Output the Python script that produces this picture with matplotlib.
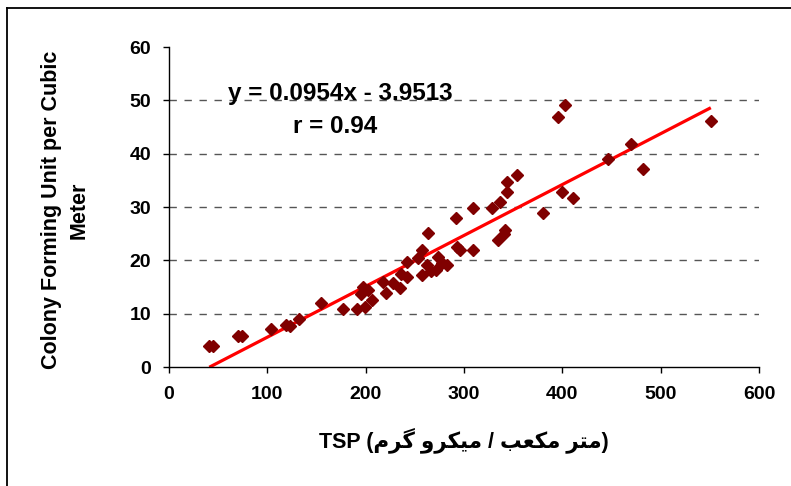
import matplotlib
matplotlib.use("Agg")
import matplotlib.pyplot as plt
from matplotlib.lines import Line2D
import numpy as np

# ---- data ----
tsp = [41, 45, 70, 74, 104, 119, 123, 132, 155, 177, 191, 195, 197, 199, 202, 206,
       218, 221, 228, 235, 236, 242, 242, 253, 257, 257, 263, 262, 266, 272, 274, 278,
       283, 292, 293, 296, 309, 309, 328, 335, 337, 341, 342, 344, 344, 354, 380, 396,
       403, 400, 411, 446, 470, 482, 551]
cfu = [4.0, 4.0, 5.9, 5.9, 7.2, 7.9, 7.7, 9.0, 12.0, 10.8, 10.8, 13.6, 15.0, 11.3, 14.5, 12.6,
       16.0, 13.9, 15.8, 14.8, 17.5, 16.9, 19.7, 20.4, 22.0, 17.3, 25.1, 19.1, 18.0, 18.2, 20.6, 19.5,
       19.1, 28.0, 22.5, 22.0, 29.8, 22.0, 29.8, 23.8, 31.0, 25.0, 25.7, 32.8, 34.7, 36.0, 28.9, 46.8,
       49.2, 32.8, 31.7, 39.0, 41.9, 37.1, 46.1]
slope = 0.0954
intercept = -3.9513
r_value = 0.94
x_ticks = [0, 100, 200, 300, 400, 500, 600]
y_ticks = [0, 10, 20, 30, 40, 50, 60]
ylabel_text = "Colony Forming Unit per Cubic\nMeter"
persian_unit = "متر مکعب / میکرو گرم"

# ---- minimal Persian shaping (presentation forms) ----
FORMS = {  # iso, fin, ini, med ; None => right-joining only
    'م': ('\uFEE1', '\uFEE2', '\uFEE3', '\uFEE4'),
    'ت': ('\uFE95', '\uFE96', '\uFE97', '\uFE98'),
    'ر': ('\uFEAD', '\uFEAE', None, None),
    'ک': ('\uFB8E', '\uFB8F', '\uFB90', '\uFB91'),
    'ع': ('\uFEC9', '\uFECA', '\uFECB', '\uFECC'),
    'ب': ('\uFE8F', '\uFE90', '\uFE91', '\uFE92'),
    'ی': ('\uFBFC', '\uFBFD', '\uFBFE', '\uFBFF'),
    'و': ('\uFEED', '\uFEEE', None, None),
    'گ': ('\uFB92', '\uFB93', '\uFB94', '\uFB95'),
}


def shape(text):
    out = []
    n = len(text)
    for i, ch in enumerate(text):
        if ch not in FORMS:
            out.append(ch)
            continue
        f = FORMS[ch]
        prev = text[i - 1] if i > 0 else None
        nxt = text[i + 1] if i < n - 1 else None
        jp = prev in FORMS and FORMS[prev][2] is not None
        jn = nxt in FORMS and f[2] is not None
        if jp and jn:
            out.append(f[3])
        elif jp:
            out.append(f[1])
        elif jn:
            out.append(f[2])
        else:
            out.append(f[0])
    return ''.join(out)[::-1]


W, H = 791, 486
fig = plt.figure(figsize=(W / 100, H / 100), dpi=100)
ax = fig.add_axes([169 / W, 1 - 367 / H, 590 / W, 320 / H])

font = ['Liberation Sans', 'DejaVu Sans']

# grid
for yv in y_ticks[1:-1]:
    ax.axhline(yv, color='#555555', lw=1.0, ls=(0, (5.3, 5.5)), zorder=1)

xs = np.array([min(tsp), max(tsp)])
ax.plot(xs, slope * xs + intercept, color='#FF0000', lw=2.3, zorder=2, solid_capstyle='butt')
ax.plot(tsp, cfu, ls='none', marker='D', ms=6.5, color='#800000', mec='#800000', zorder=3)

ax.set_xlim(x_ticks[0], x_ticks[-1])
ax.set_ylim(y_ticks[0], y_ticks[-1])
ax.set_xticks(x_ticks)
ax.set_yticks(y_ticks)
for s in ['top', 'right']:
    ax.spines[s].set_visible(False)
for s in ['left', 'bottom']:
    ax.spines[s].set_linewidth(1.0)
ax.tick_params(direction='out', length=4, width=1.0)
ax.tick_params(axis='x', pad=10)
ax.tick_params(axis='y', pad=9)
for lab in ax.get_xticklabels() + ax.get_yticklabels():
    lab.set_fontfamily(font)
    lab.set_fontweight('bold')
    lab.set_fontsize(14)

ax.text(0.29, 0.856, f"y = {slope}x - {abs(intercept)}", transform=ax.transAxes,
        ha='center', va='center', fontsize=17.5, fontweight='bold', family=font)
ax.text(0.281, 0.753, f"r = {r_value}", transform=ax.transAxes,
        ha='center', va='center', fontsize=17.5, fontweight='bold', family=font)

fig.text(65 / W, 1 - 210 / H, ylabel_text, rotation=90, ha='center', va='center',
         multialignment='center', fontsize=15.5, fontweight='bold', family=font,
         linespacing=1.4)
fig.text(464 / W, 1 - 440 / H, "TSP (" + shape(persian_unit) + ")", ha='center', va='center',
         fontsize=15.5, fontweight='bold', family=font)

# outer frame (top and left edges visible)
fig.add_artist(Line2D([7 / W, 7 / W], [0, 1 - 8 / H], color='black', lw=1.3, transform=fig.transFigure))
fig.add_artist(Line2D([7 / W, 1], [1 - 8 / H, 1 - 8 / H], color='black', lw=1.3, transform=fig.transFigure))

fig.savefig('out.png', dpi=100)
